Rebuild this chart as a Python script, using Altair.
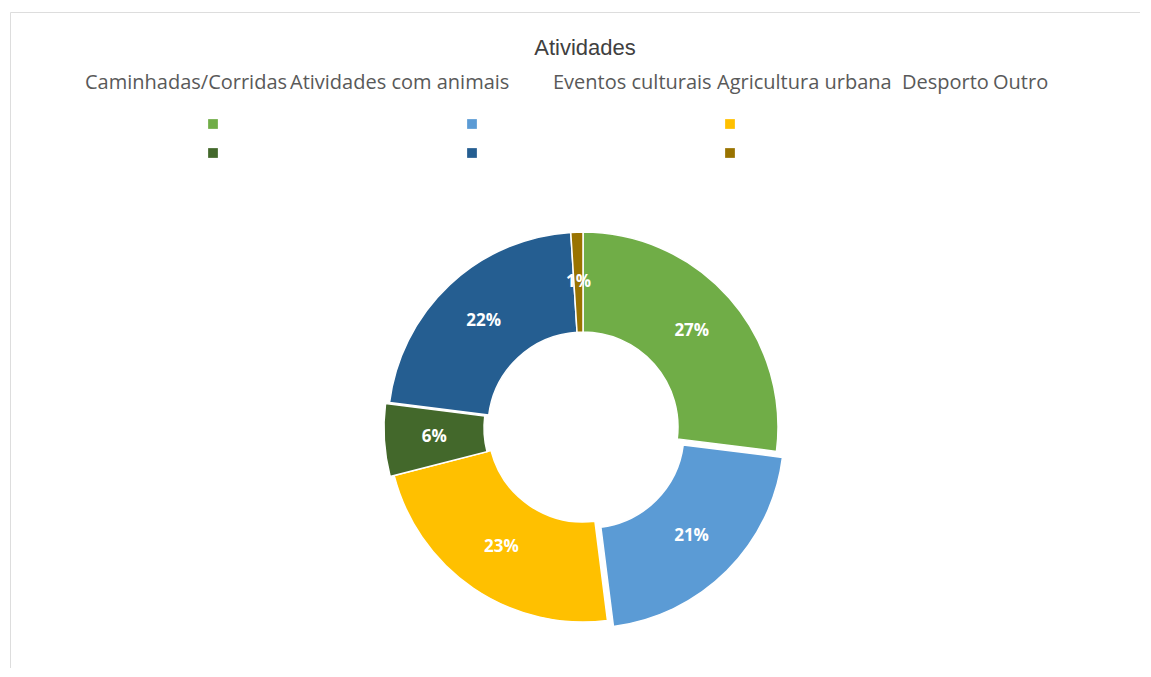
import altair as alt
import pandas as pd

# ---- data ----
categories = ["Caminhadas/Corridas", "Atividades com animais", "Eventos culturais",
              "Agricultura urbana", "Desporto", "Outro"]
values = [27, 21, 23, 6, 22, 1]
colors = ["#70AD47", "#5B9BD5", "#FFC000", "#43682B", "#255E91", "#997300"]
title_text = "Atividades"

df = pd.DataFrame({
    "category": categories,
    "value": values,
    "order": list(range(len(categories))),
})

# ---- layout / style ----
W, H = 1130, 656
CX, CY = 573, 415          # donut centre inside the view
R_OUT, R_IN, R_LAB = 195, 95, 145
explode = {"Atividades com animais": (6, 6), "Agricultura urbana": (-4, 1)}
legend_text_x = [75, 280, 543, 707, 892, 983]
legend_text_y = 71
legend_sq_x = [203, 462, 720]
legend_sq_y = [112, 141]

color_scale = alt.Scale(domain=categories, range=colors)

base = (
    alt.Chart(df)
    .transform_joinaggregate(total="sum(value)")
    .transform_window(cum="sum(value)", sort=[alt.SortField("order")], frame=[None, 0])
    .transform_calculate(
        end="2*PI*datum.cum/datum.total",
        start="2*PI*(datum.cum-datum.value)/datum.total",
    )
    .transform_calculate(
        mid="(datum.start+datum.end)/2",
        label="format(datum.value/datum.total, '.0%')",
    )
)

layers = []
for cat in categories:
    dx, dy = explode.get(cat, (0, 0))
    arc = (
        base.transform_filter(alt.datum.category == cat)
        .mark_arc(radius=R_OUT, radius2=R_IN, xOffset=dx, yOffset=dy,
                  stroke="white", strokeWidth=1.5)
        .encode(
            theta=alt.Theta("start:Q", scale=None),
            theta2="end:Q",
            color=alt.Color("category:N", scale=color_scale, legend=None),
            x=alt.value(CX), y=alt.value(CY),
        )
    )
    txt = (
        base.transform_filter(alt.datum.category == cat)
        .mark_text(radius=R_LAB, dx=dx, dy=dy, font="Open Sans", fontWeight="bold",
                   fontSize=17, color="white", align="center", baseline="middle")
        .encode(
            theta=alt.Theta("mid:Q", scale=None),
            text="label:N",
            x=alt.value(CX), y=alt.value(CY),
        )
    )
    layers += [arc, txt]

# title
title = alt.Chart(pd.DataFrame({"t": [title_text]})).mark_text(
    font="Liberation Sans", fontSize=22, color="#404040", align="center", baseline="middle"
).encode(text="t:N", x=alt.value(575), y=alt.value(36))
layers.append(title)

# hand-made legend (labels in a row, swatches in a 3x2 grid)
for i, cat in enumerate(categories):
    lab = alt.Chart(pd.DataFrame({"category": [cat]})).mark_text(
        font="Open Sans", fontSize=20, color="#595959", align="left", baseline="middle"
    ).encode(text="category:N", x=alt.value(legend_text_x[i]), y=alt.value(legend_text_y))
    sq = alt.Chart(pd.DataFrame({"category": [cat]})).mark_square(size=95, opacity=1).encode(
        color=alt.Color("category:N", scale=color_scale, legend=None),
        x=alt.value(legend_sq_x[i % 3]), y=alt.value(legend_sq_y[i // 3]),
    )
    layers += [lab, sq]

chart = (
    alt.layer(*layers)
    .properties(width=W, height=H, autosize=alt.AutoSizeParams(type="none"),
                padding={"left": 2, "top": 4, "right": 0, "bottom": 0})
    .configure_view(stroke="#d9d9d9", strokeWidth=1)
    .configure(background="white")
)

chart.save("out.html", embed_options={"renderer": "svg", "actions": False})
